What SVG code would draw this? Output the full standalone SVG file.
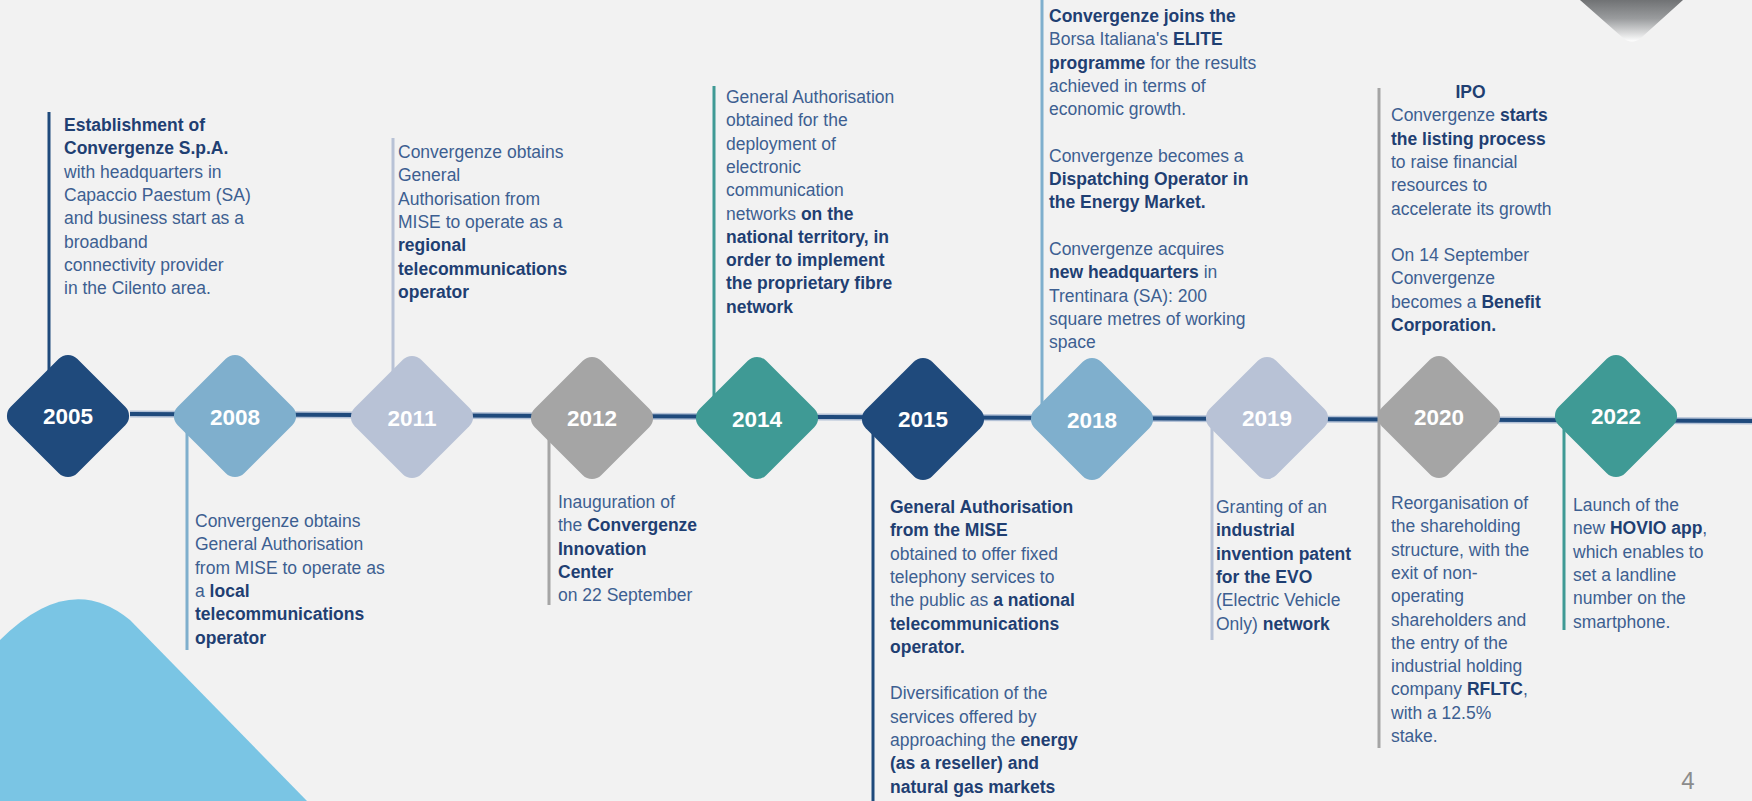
<svg xmlns="http://www.w3.org/2000/svg" width="1752" height="801" viewBox="0 0 1752 801">
<style>
.t{font-family:"Liberation Sans",Arial,sans-serif;font-size:17.5px;fill:#3d5f91}
.b{font-weight:bold;fill:#1f3f72}
.yr{font-family:"Liberation Sans",Arial,sans-serif;font-size:22.5px;font-weight:bold;fill:#ffffff;text-anchor:middle}
.stem{stroke-width:3;fill:none}
.navy{fill:#1f4a7c}.lblue{fill:#7fafcd}.lav{fill:#b8c2d6}.grey{fill:#a5a5a5}.teal{fill:#3f9a95}
</style>
<defs>
<rect id="dia" x="-47" y="-47" width="94" height="94" rx="13"/>
<linearGradient id="topg" x1="0" y1="0" x2="0" y2="1">
<stop offset="0" stop-color="#707274"/>
<stop offset="0.45" stop-color="#9a9c9e"/>
<stop offset="1" stop-color="#ffffff"/>
</linearGradient>
</defs>
<rect width="1752" height="801" fill="#f2f2f2"/>
<path d="M0,640 Q70,570 130,620 L307,801 L0,801 Z" fill="#7ac5e4"/>
<path d="M1580,0 L1622,37 Q1632,46 1642,37 L1683,0 Z" fill="url(#topg)"/>

<g id="connectors">
<line x1="130" y1="414" x2="1752" y2="421" stroke="#b3c1d6" stroke-width="7"/>
<line x1="130" y1="414" x2="1752" y2="421" stroke="#1f4a7c" stroke-width="4"/>
<line class="stem" x1="49" y1="112" x2="49" y2="400" stroke="#1f4a7c"/>
<line class="stem" x1="187" y1="420" x2="187" y2="650" stroke="#7fafcd"/>
<line class="stem" x1="393" y1="138" x2="393" y2="410" stroke="#b8c2d6"/>
<line class="stem" x1="549" y1="420" x2="549" y2="605" stroke="#a5a5a5"/>
<line class="stem" x1="714" y1="86" x2="714" y2="410" stroke="#3f9a95"/>
<line class="stem" x1="873" y1="420" x2="873" y2="801" stroke="#1f4a7c"/>
<line class="stem" x1="1042" y1="0" x2="1042" y2="410" stroke="#7fafcd"/>
<line class="stem" x1="1212" y1="420" x2="1212" y2="640" stroke="#b8c2d6"/>
<line class="stem" x1="1379" y1="88" x2="1379" y2="748" stroke="#a5a5a5"/>
<line class="stem" x1="1564" y1="420" x2="1564" y2="630" stroke="#3f9a95"/>
</g>

<g id="y2005">
<use href="#dia" class="navy" transform="translate(68,416) rotate(45)"/>
<text class="yr" x="68" y="424">2005</text>
<text class="t">
<tspan x="64" y="131" class="b">Establishment of</tspan>
<tspan x="64" y="154.3" class="b">Convergenze S.p.A.</tspan>
<tspan x="64" y="177.6">with headquarters in</tspan>
<tspan x="64" y="200.9">Capaccio Paestum (SA)</tspan>
<tspan x="64" y="224.2">and business start as a</tspan>
<tspan x="64" y="247.5">broadband</tspan>
<tspan x="64" y="270.8">connectivity provider</tspan>
<tspan x="64" y="294.1">in the Cilento area.</tspan>
</text>
</g>

<g id="y2008">
<use href="#dia" class="lblue" transform="translate(235,416) rotate(45)"/>
<text class="yr" x="235" y="425">2008</text>
<text class="t">
<tspan x="195" y="527">Convergenze obtains</tspan>
<tspan x="195" y="550.3">General Authorisation</tspan>
<tspan x="195" y="573.6">from MISE to operate as</tspan>
<tspan x="195" y="596.9">a <tspan class="b">local</tspan></tspan>
<tspan x="195" y="620.2" class="b">telecommunications</tspan>
<tspan x="195" y="643.5" class="b">operator</tspan>
</text>
</g>

<g id="y2011">
<use href="#dia" class="lav" transform="translate(412,417) rotate(45)"/>
<text class="yr" x="412" y="426">2011</text>
<text class="t">
<tspan x="398" y="158">Convergenze obtains</tspan>
<tspan x="398" y="181.3">General</tspan>
<tspan x="398" y="204.6">Authorisation from</tspan>
<tspan x="398" y="227.9">MISE to operate as a</tspan>
<tspan x="398" y="251.2" class="b">regional</tspan>
<tspan x="398" y="274.5" class="b">telecommunications</tspan>
<tspan x="398" y="297.8" class="b">operator</tspan>
</text>
</g>

<g id="y2012">
<use href="#dia" class="grey" transform="translate(592,418) rotate(45)"/>
<text class="yr" x="592" y="426">2012</text>
<text class="t">
<tspan x="558" y="508">Inauguration of</tspan>
<tspan x="558" y="531.3">the <tspan class="b">Convergenze</tspan></tspan>
<tspan x="558" y="554.6" class="b">Innovation</tspan>
<tspan x="558" y="577.9" class="b">Center</tspan>
<tspan x="558" y="601.2">on 22 September</tspan>
</text>
</g>

<g id="y2014">
<use href="#dia" class="teal" transform="translate(757,418) rotate(45)"/>
<text class="yr" x="757" y="427">2014</text>
<text class="t">
<tspan x="726" y="103">General Authorisation</tspan>
<tspan x="726" y="126.3">obtained for the</tspan>
<tspan x="726" y="149.6">deployment of</tspan>
<tspan x="726" y="172.9">electronic</tspan>
<tspan x="726" y="196.2">communication</tspan>
<tspan x="726" y="219.5">networks <tspan class="b">on the</tspan></tspan>
<tspan x="726" y="242.8" class="b">national territory, in</tspan>
<tspan x="726" y="266.1" class="b">order to implement</tspan>
<tspan x="726" y="289.4" class="b">the proprietary fibre</tspan>
<tspan x="726" y="312.7" class="b">network</tspan>
</text>
</g>

<g id="y2015">
<use href="#dia" class="navy" transform="translate(923,419) rotate(45)"/>
<text class="yr" x="923" y="427">2015</text>
<text class="t">
<tspan x="890" y="513" class="b">General Authorisation</tspan>
<tspan x="890" y="536.3" class="b">from the MISE</tspan>
<tspan x="890" y="559.6">obtained to offer fixed</tspan>
<tspan x="890" y="582.9">telephony services to</tspan>
<tspan x="890" y="606.2">the public as <tspan class="b">a national</tspan></tspan>
<tspan x="890" y="629.5" class="b">telecommunications</tspan>
<tspan x="890" y="652.8" class="b">operator.</tspan>
<tspan x="890" y="699.4">Diversification of the</tspan>
<tspan x="890" y="722.7">services offered by</tspan>
<tspan x="890" y="746">approaching the <tspan class="b">energy</tspan></tspan>
<tspan x="890" y="769.3" class="b">(as a reseller) and</tspan>
<tspan x="890" y="792.6" class="b">natural gas markets</tspan>
</text>
</g>

<g id="y2018">
<use href="#dia" class="lblue" transform="translate(1092,419) rotate(45)"/>
<text class="yr" x="1092" y="428">2018</text>
<text class="t">
<tspan x="1049" y="22" class="b">Convergenze joins the</tspan>
<tspan x="1049" y="45.3">Borsa Italiana's <tspan class="b">ELITE</tspan></tspan>
<tspan x="1049" y="68.6"><tspan class="b">programme</tspan> for the results</tspan>
<tspan x="1049" y="91.9">achieved in terms of</tspan>
<tspan x="1049" y="115.2">economic growth.</tspan>
<tspan x="1049" y="161.8">Convergenze becomes a</tspan>
<tspan x="1049" y="185.1" class="b">Dispatching Operator in</tspan>
<tspan x="1049" y="208.4" class="b">the Energy Market.</tspan>
<tspan x="1049" y="255">Convergenze acquires</tspan>
<tspan x="1049" y="278.3"><tspan class="b">new headquarters</tspan> in</tspan>
<tspan x="1049" y="301.6">Trentinara (SA): 200</tspan>
<tspan x="1049" y="324.9">square metres of working</tspan>
<tspan x="1049" y="348.2">space</tspan>
</text>
</g>

<g id="y2019">
<use href="#dia" class="lav" transform="translate(1267,418) rotate(45)"/>
<text class="yr" x="1267" y="426">2019</text>
<text class="t">
<tspan x="1216" y="513">Granting of an</tspan>
<tspan x="1216" y="536.3" class="b">industrial</tspan>
<tspan x="1216" y="559.6" class="b">invention patent</tspan>
<tspan x="1216" y="582.9" class="b">for the EVO</tspan>
<tspan x="1216" y="606.2">(Electric Vehicle</tspan>
<tspan x="1216" y="629.5">Only) <tspan class="b">network</tspan></tspan>
</text>
</g>

<g id="y2020">
<use href="#dia" class="grey" transform="translate(1439,417) rotate(45)"/>
<text class="yr" x="1439" y="425">2020</text>
<text class="t">
<tspan x="1473" y="98" class="b" text-anchor="middle">IPO</tspan>
<tspan x="1391" y="121.3">Convergenze <tspan class="b">starts</tspan></tspan>
<tspan x="1391" y="144.6" class="b">the listing process</tspan>
<tspan x="1391" y="167.9">to raise financial</tspan>
<tspan x="1391" y="191.2">resources to</tspan>
<tspan x="1391" y="214.5">accelerate its growth</tspan>
<tspan x="1391" y="261.1">On 14 September</tspan>
<tspan x="1391" y="284.4">Convergenze</tspan>
<tspan x="1391" y="307.7">becomes a <tspan class="b">Benefit</tspan></tspan>
<tspan x="1391" y="331" class="b">Corporation.</tspan>
</text>
<text class="t">
<tspan x="1391" y="509">Reorganisation of</tspan>
<tspan x="1391" y="532.3">the shareholding</tspan>
<tspan x="1391" y="555.6">structure, with the</tspan>
<tspan x="1391" y="578.9">exit of non-</tspan>
<tspan x="1391" y="602.2">operating</tspan>
<tspan x="1391" y="625.5">shareholders and</tspan>
<tspan x="1391" y="648.8">the entry of the</tspan>
<tspan x="1391" y="672.1">industrial holding</tspan>
<tspan x="1391" y="695.4">company <tspan class="b">RFLTC</tspan>,</tspan>
<tspan x="1391" y="718.7">with a 12.5%</tspan>
<tspan x="1391" y="742">stake.</tspan>
</text>
</g>

<g id="y2022">
<use href="#dia" class="teal" transform="translate(1616,416) rotate(45)"/>
<text class="yr" x="1616" y="424">2022</text>
<text class="t">
<tspan x="1573" y="511">Launch of the</tspan>
<tspan x="1573" y="534.3">new <tspan class="b">HOVIO app</tspan>,</tspan>
<tspan x="1573" y="557.6">which enables to</tspan>
<tspan x="1573" y="580.9">set a landline</tspan>
<tspan x="1573" y="604.2">number on the</tspan>
<tspan x="1573" y="627.5">smartphone.</tspan>
</text>
</g>

<text x="1688" y="789" text-anchor="middle" font-family="Liberation Sans, Arial, sans-serif" font-size="24" fill="#8c8c8c">4</text>
</svg>
